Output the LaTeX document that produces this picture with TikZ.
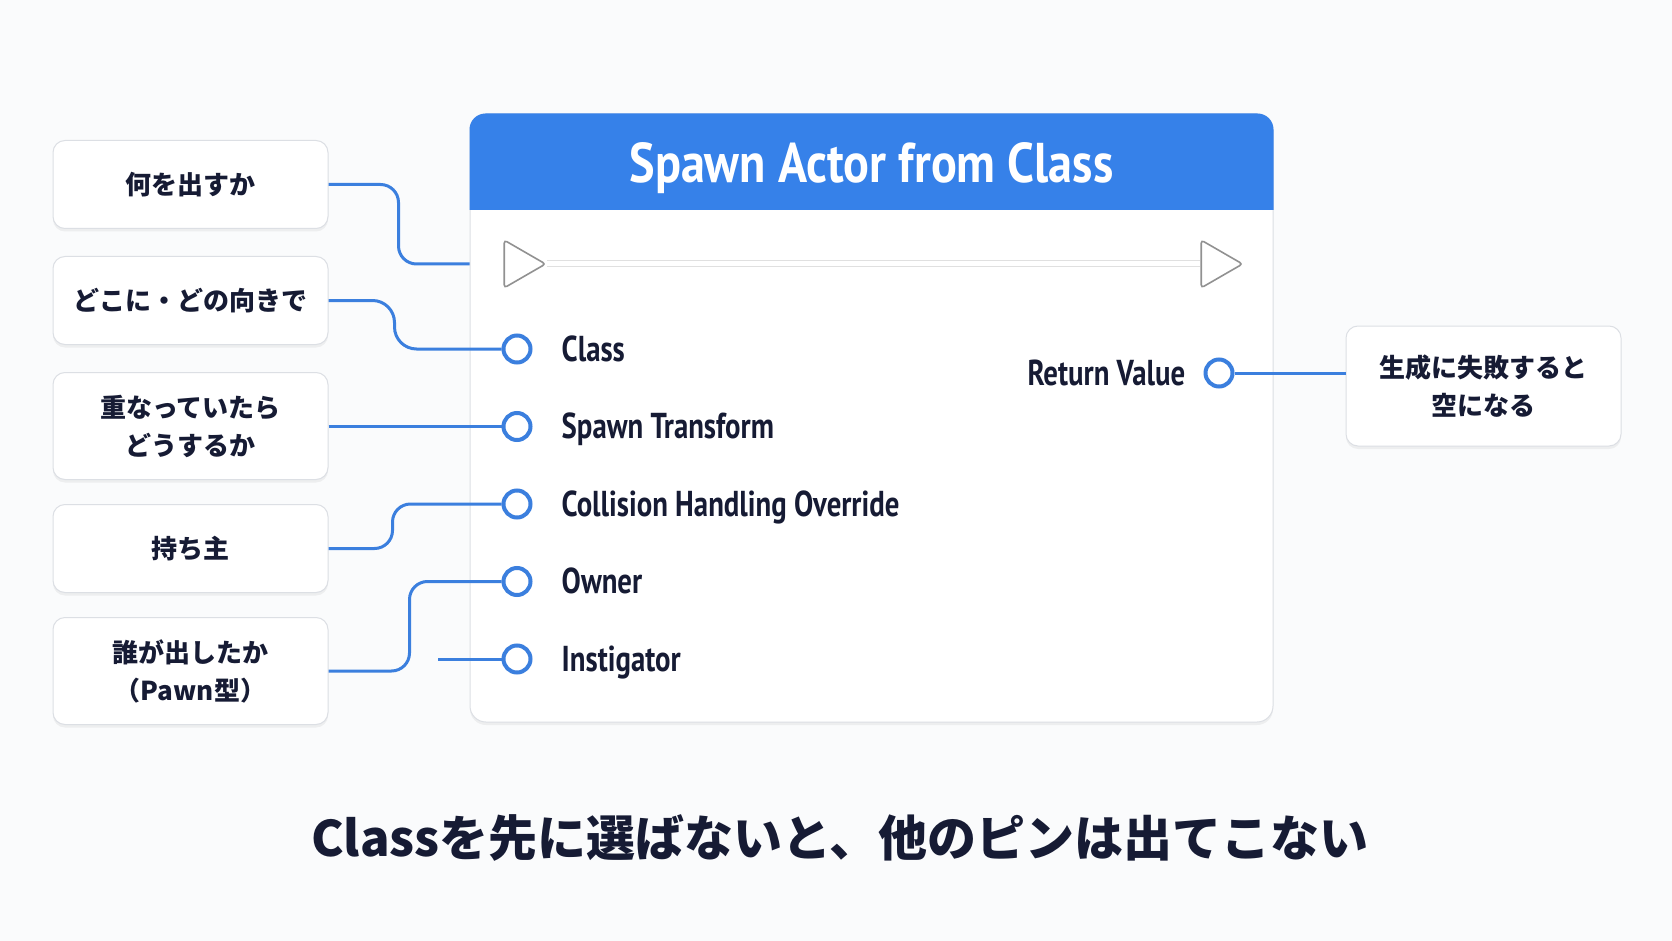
\documentclass[tikz,border=0pt]{standalone}
\usepackage{fontspec}
\setmainfont{PT Sans}
\newfontfamily\jpfont{Noto Sans CJK JP}
\newfontfamily\condfont{PT Sans}[FakeStretch=0.8]
\newfontfamily\titlefont{PT Sans}[FakeStretch=0.86]
\usetikzlibrary{positioning,shapes.geometric,shadows}

\definecolor{nodeblue}{RGB}{54,129,233}
\definecolor{wireblue}{RGB}{59,127,222}
\definecolor{inkdark}{RGB}{22,27,52}
\definecolor{paper}{RGB}{250,251,252}
\definecolor{edgegray}{RGB}{220,223,228}
\definecolor{execgray}{RGB}{145,145,145}

\tikzset{
  note/.style={draw=edgegray, fill=white, rounded corners=12pt, line width=1pt,
    minimum width=275pt, minimum height=88pt, align=center, text=inkdark,
    font=\jpfont\bfseries\fontsize{26}{38}\selectfont,
    drop shadow={opacity=0.10, shadow xshift=0pt, shadow yshift=-3pt}},
  tallnote/.style={note, minimum height=107pt},
  pin/.style={circle, draw=wireblue, line width=4pt, fill=white,
    minimum size=27pt, inner sep=0pt},
  pinlabel/.style={font=\condfont\bfseries\fontsize{36}{40}\selectfont, text=inkdark,
    inner sep=0pt, text height=24pt, text depth=0pt},
  execpin/.style={regular polygon, regular polygon sides=3, shape border rotate=-90,
    draw=execgray, fill=white, line width=1.6pt, minimum size=55pt, inner sep=0pt,
    rounded corners=3pt},
  wire/.style={draw=wireblue, line width=3pt, rounded corners=18pt},
}

\begin{document}
\begin{tikzpicture}[x=1pt, y=-1pt]
  % canvas
  \fill [paper] (0,0) rectangle (1672,941);
  \useasboundingbox (0,0) rectangle (1672,941);

  % Spawn node body
  \node [draw=edgegray, fill=white, line width=1pt, rounded corners=16pt,
    minimum width=803pt, minimum height=608pt,
    drop shadow={opacity=0.10, shadow xshift=0pt, shadow yshift=-3pt}] (spawn) at (871.5,418) {};
  \coordinate (hdrbot) at (0,210);
  \fill [nodeblue] (spawn.west |- hdrbot) [rounded corners=16pt] -- (spawn.north west)
    -- (spawn.north east) [sharp corners] -- (spawn.east |- hdrbot) -- cycle;
  \node [text=white, font=\titlefont\bfseries\fontsize{56}{60}\selectfont] (title) at (spawn.north |- 0,168) {Spawn Actor from Class};

  % Exec pins
  \node [execpin] (execin) at (518,264) {};
  \node [execpin] (execout) at (1215,264) {};
  \draw [draw=black!12, line width=1pt, double=white, double distance=5pt] (execin) -- (execout);

  % Input pins
  \node [pin] (pclass) at (517,349) {};
  \node [pin, below=46.5pt of pclass] (ptrans) {};
  \node [pin, below=46.5pt of ptrans] (pcoll) {};
  \node [pin, below=46.5pt of pcoll] (powner) {};
  \node [pin, below=46.5pt of powner] (pinst) {};
  \node [pinlabel, right=29pt of pclass] (lclass) {Class};
  \node [pinlabel, right=29pt of ptrans] (ltrans) {Spawn Transform};
  \node [pinlabel, right=29pt of pcoll] (lcoll) {Collision Handling Override};
  \node [pinlabel, right=29pt of powner] (lowner) {Owner};
  \node [pinlabel, right=29pt of pinst] (linst) {Instigator};

  % Output pin
  \node [pin] (pret) at (1219,373) {};
  \node [pinlabel, left=18pt of pret] (lret) {Return Value};

  % Notes
  \node [note] (what) at (190.5,184.5) {何を出すか};
  \node [note, below=27pt of what] (where) {どこに・どの向きで};
  \node [tallnote, below=27pt of where] (overlap) {重なっていたら\\どうするか};
  \node [note, below=24pt of overlap] (holder) {持ち主};
  \node [tallnote, below=24pt of holder] (who) {誰が出したか\\（Pawn型）};
  \node [tallnote, minimum height=120pt] (retnote) at (1483.5,386) {生成に失敗すると\\空になる};

  % Wires
  \draw [wire] (what.east) -- ++(70,0) |- (spawn.west |- execin);
  \draw [wire, rounded corners=22pt] (where.east) -- ++(66,0) |- (pclass);
  \draw [wire] (ptrans -| overlap.east) -- (ptrans);
  \draw [wire] (holder.east) -- ++(64,0) |- (pcoll);
  \draw [wire] (who.east) -- ++(81,0) |- (powner);
  \coordinate (stub) at (438,659);
  \draw [wire] (stub |- pinst) -- (pinst);
  \draw [wire] (pret) -- (pret -| retnote.west);

  % Bottom line
  \node [font=\jpfont\bfseries\fontsize{49}{56}\selectfont, text=inkdark] (moral) at (840,838) {Classを先に選ばないと、他のピンは出てこない};
\end{tikzpicture}
\end{document}
